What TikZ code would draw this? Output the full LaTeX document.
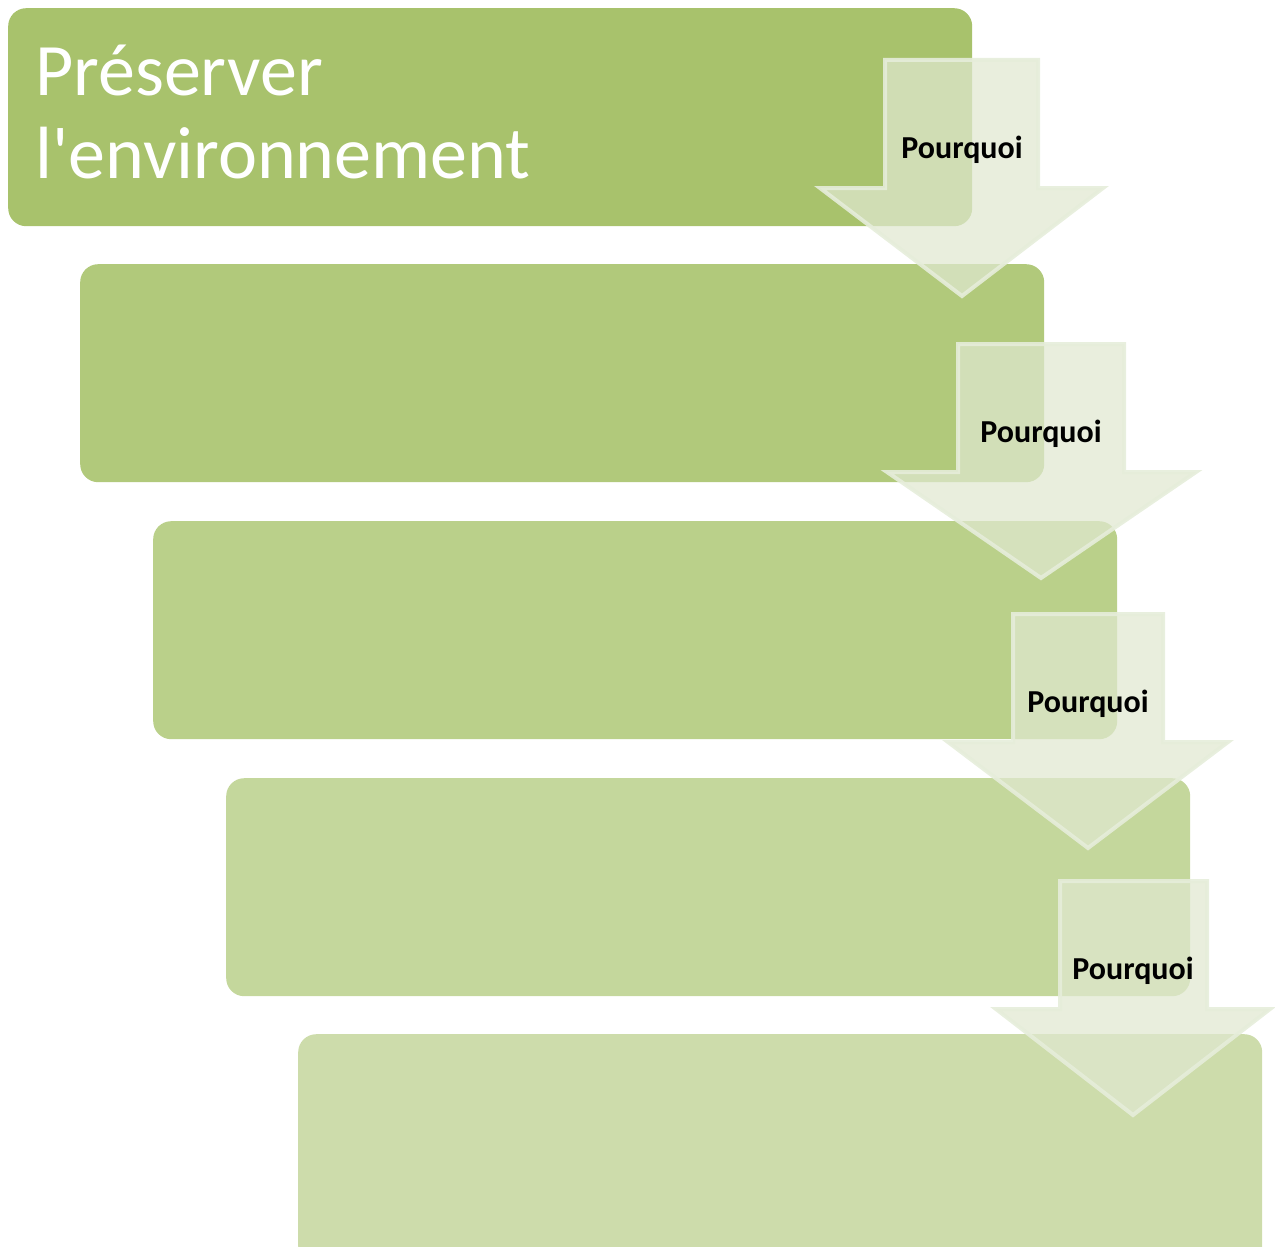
\documentclass[tikz,border=0pt]{standalone}
\usepackage{fontspec}
\setmainfont{Carlito}[Ligatures=TeXOff]
\definecolor{cA}{HTML}{A8C26C}
\definecolor{cB}{HTML}{B1C97B}
\definecolor{cC}{HTML}{BAD08A}
\definecolor{cD}{HTML}{C4D79C}
\definecolor{cE}{HTML}{CDDCAB}
\definecolor{arrfill}{HTML}{E0E8D0}
\definecolor{arrline}{HTML}{E6EDDA}
\tikzset{
  stepbox/.style={rectangle, rounded corners=18pt, draw=none, minimum width=964pt, minimum height=218pt, anchor=north west, inner sep=0pt},
  whyarrow/.style={fill=arrfill, fill opacity=0.72, draw=arrline, draw opacity=0.9, line width=4pt, line join=miter},
  whytext/.style={font=\fontsize{32}{38}\selectfont\bfseries, text=black, anchor=base, inner sep=0pt},
  titletext/.style={font=\fontsize{74}{83}\selectfont, text=white, align=left, anchor=north west, inner sep=0pt}
}
\begin{document}
\begin{tikzpicture}[x=1pt,y=-1pt]
\useasboundingbox (0,0) rectangle (1275,1247);
\begin{scope}
\clip (0,0) rectangle (1275,1247);
\node[stepbox, fill=cA] (b1) at (8,8) {};
\node[stepbox, fill=cB] (b2) at (80,264) {};
\node[stepbox, fill=cC] (b3) at (153,521) {};
\node[stepbox, fill=cD] (b4) at (226,778) {};
\node[stepbox, fill=cE, minimum height=230pt] (b5) at (298,1034) {};
\end{scope}
\node[titletext] (title) at (35,45) {Préserver\\l'environnement};
\draw[whyarrow] (885,60) -- (1038,60) -- (1038,188) -- (1103,188) -- (962,296) -- (820,188) -- (885,188) -- cycle;
\draw[whyarrow] (958,344) -- (1124,344) -- (1124,472) -- (1196,472) -- (1041,578) -- (887,472) -- (958,472) -- cycle;
\draw[whyarrow] (1013,614) -- (1163,614) -- (1163,742) -- (1228,742) -- (1088,848) -- (948,742) -- (1013,742) -- cycle;
\draw[whyarrow] (1060,881) -- (1207,881) -- (1207,1009) -- (1270,1009) -- (1133,1115) -- (996,1009) -- (1060,1009) -- cycle;
\node[whytext] (w1) at (962,158) {Pourquoi};
\node[whytext] (w2) at (1041,442) {Pourquoi};
\node[whytext] (w3) at (1088,712) {Pourquoi};
\node[whytext] (w4) at (1133,979) {Pourquoi};
\end{tikzpicture}
\end{document}
